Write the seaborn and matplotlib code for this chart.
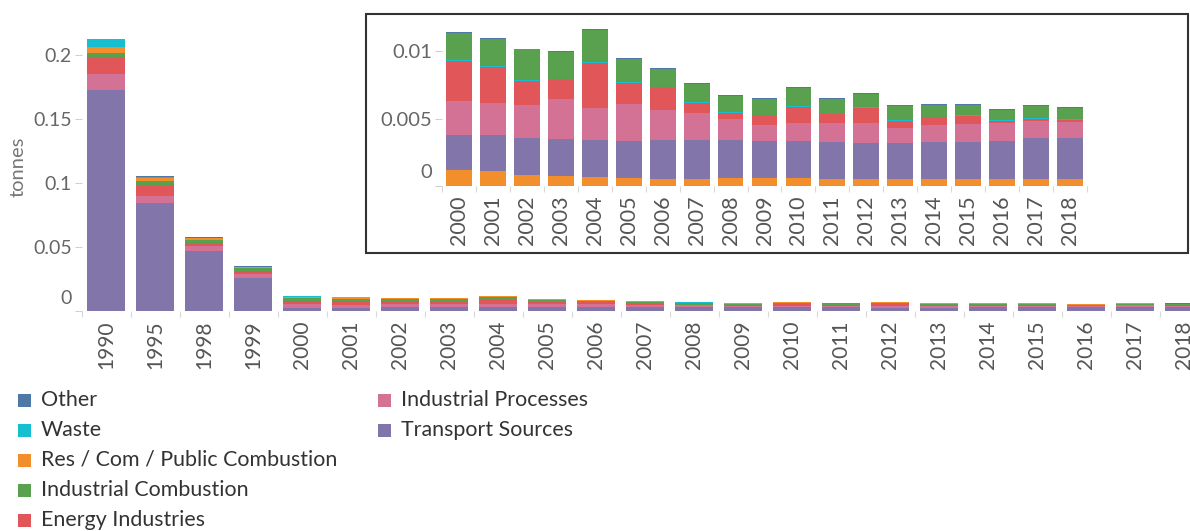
import numpy as np
import pandas as pd
import matplotlib
matplotlib.use("Agg")
import matplotlib.pyplot as plt
from matplotlib.patches import Rectangle
from matplotlib.transforms import ScaledTranslation
import seaborn as sns

years = ["1990", "1995", "1998", "1999"] + [str(y) for y in range(2000, 2019)]

transport = [0.1727, 0.0844, 0.0469, 0.0260, 0.00259, 0.00269, 0.00277, 0.00277, 0.00277,
             0.00274, 0.00289, 0.00289, 0.00281, 0.00274, 0.00274, 0.00274, 0.00267, 0.00267,
             0.00274, 0.00274, 0.00281, 0.00304, 0.00304]
ind_processes = [0.0125, 0.0054, 0.0039, 0.0027, 0.00249, 0.00237, 0.00242, 0.00296, 0.00237,
                 0.00274, 0.00220, 0.00200, 0.00153, 0.00116, 0.00133, 0.00141, 0.00148, 0.00111,
                 0.00126, 0.00133, 0.00133, 0.00126, 0.00119]
energy = [0.0130, 0.0084, 0.0021, 0.0023, 0.00299, 0.00267, 0.00180, 0.00143, 0.00333,
          0.00156, 0.00168, 0.00074, 0.00047, 0.00064, 0.00119, 0.00062, 0.00111, 0.00052,
          0.00054, 0.00059, 0.00015, 0.00015, 0.00015]
ind_combustion = [0.0036, 0.0034, 0.0026, 0.0026, 0.00202, 0.00202, 0.00227, 0.00200, 0.00240,
                  0.00170, 0.00136, 0.00136, 0.00119, 0.00123, 0.00133, 0.00109, 0.00099, 0.00106,
                  0.00089, 0.00077, 0.00077, 0.00089, 0.00084]
res_com = [0.0045, 0.0023, 0.0013, 0.0008, 0.00121, 0.00111, 0.00081, 0.00074, 0.00067,
           0.00062, 0.00054, 0.00054, 0.00062, 0.00062, 0.00062, 0.00054, 0.00054, 0.00054,
           0.00054, 0.00054, 0.00054, 0.00054, 0.00054]
waste = [0.0060, 0.0008, 0.0004, 0.0003, 0.00005, 0.00005, 0.00005, 0.00005, 0.00005,
         0.00007, 0.00003, 0.00005, 0.00007, 0.00005, 0.00007, 0.00005, 0.00005, 0.00005,
         0.00005, 0.00005, 0.00005, 0.00007, 0.00005]
other = [0.0005, 0.0008, 0.0006, 0.0005, 0.00007, 0.00007, 0.00005, 0.00007, 0.00007,
         0.00007, 0.00007, 0.00007, 0.00007, 0.00007, 0.00007, 0.00007, 0.00007, 0.00007,
         0.00007, 0.00007, 0.00007, 0.00007, 0.00007]

series = {
    "Other": other,
    "Waste": waste,
    "Res / Com / Public Combustion": res_com,
    "Industrial Combustion": ind_combustion,
    "Energy Industries": energy,
    "Industrial Processes": ind_processes,
    "Transport Sources": transport,
}
colors = {
    "Other": "#4e79a7",
    "Waste": "#17bed0",
    "Res / Com / Public Combustion": "#f28e2b",
    "Industrial Combustion": "#59a14f",
    "Energy Industries": "#e15759",
    "Industrial Processes": "#d37295",
    "Transport Sources": "#8175aa",
}
legend_col1 = ["Other", "Waste", "Res / Com / Public Combustion", "Industrial Combustion", "Energy Industries"]
legend_col2 = ["Industrial Processes", "Transport Sources"]

main_order = ["Transport Sources", "Industrial Processes", "Energy Industries",
              "Industrial Combustion", "Res / Com / Public Combustion", "Waste", "Other"]
inset_order = ["Res / Com / Public Combustion", "Transport Sources", "Industrial Processes",
               "Energy Industries", "Waste", "Industrial Combustion", "Other"]

sns.set_style("white")
plt.rcParams["font.family"] = ["Lato", "DejaVu Sans"]

W, H = 1190, 531
fig = plt.figure(figsize=(W / 100, H / 100), dpi=100)


def px_axes(left, top, right, bottom):
    return [left / W, 1 - bottom / H, (right - left) / W, (bottom - top) / H]


def stacked(ax, cats, order, sl):
    cum = np.zeros(len(cats))
    layers = []
    for name in order:
        cum = cum + np.array(series[name])[sl]
        layers.append((name, cum.copy()))
    for name, top in reversed(layers):
        df = pd.DataFrame({"year": cats, "val": top})
        sns.barplot(data=df, x="year", y="val", color=colors[name], saturation=1,
                    width=0.76, errorbar=None, linewidth=0, ax=ax)


def style(ax, n, yticks, ylabels, ylim, zero_shift, ysize, xsize):
    ax.set_xlim(-0.5, n - 0.5)
    ax.set_ylim(*ylim)
    for s in ax.spines.values():
        s.set_visible(False)
    ax.set_xlabel("")
    ax.set_ylabel("")
    ax.set_yticks(yticks)
    ax.set_yticklabels(ylabels)
    ax.tick_params(axis="y", length=5, width=0.8, color="#d0d0d0", labelsize=ysize,
                   labelcolor="#666666", pad=2, left=True)
    ax.tick_params(axis="x", which="major", length=0, labelsize=xsize, labelcolor="#555555",
                   pad=7, labelrotation=90)
    ax.set_xticks(np.arange(-0.5, n, 1.0), minor=True)
    ax.tick_params(axis="x", which="minor", length=4, width=0.8, color="#d8d8d8", bottom=True)
    lbl = ax.get_yticklabels()[0]
    lbl.set_transform(lbl.get_transform() + ScaledTranslation(0, zero_shift / 100, fig.dpi_scale_trans))


# main chart
ax = fig.add_axes(px_axes(81.5, 20, 1208.5, 311))
ax.set_zorder(0)
stacked(ax, years, main_order, slice(None))
style(ax, len(years), [0, 0.05, 0.1, 0.15, 0.2], ["0", "0.05", "0.1", "0.15", "0.2"],
      (0, 291 / 1280), 14, 14, 15)
fig.text(18 / W, 1 - 167 / H, "tonnes", rotation=90, ha="center", va="center",
         fontsize=14.5, color="#777777")

# inset frame
frame = Rectangle((366 / W, 1 - 253 / H), (1188 - 366) / W, (253 - 14) / H,
                  transform=fig.transFigure, facecolor="white", edgecolor="#333333",
                  linewidth=1.5, zorder=1)
fig.add_artist(frame)

# inset chart
ax2 = fig.add_axes(px_axes(442, 24, 1087, 186))
ax2.set_zorder(2)
inset_years = years[4:]
stacked(ax2, inset_years, inset_order, slice(4, None))
style(ax2, len(inset_years), [0, 0.005, 0.01], ["0", "0.005", "0.01"], (0, 0.012), 15, 14.5, 15.5)
ax2.patch.set_alpha(0)

# legend
def legend_col(x, names):
    for i, name in enumerate(names):
        yc = 400 + 30 * i
        fig.add_artist(Rectangle((x / W, 1 - (yc + 6.5) / H), 13 / W, 13 / H,
                                 transform=fig.transFigure, facecolor=colors[name],
                                 edgecolor="none"))
        fig.text((x + 23) / W, 1 - yc / H, name, ha="left", va="center",
                 fontsize=15.4, color="#333333")

legend_col(18, legend_col1)
legend_col(378, legend_col2)

fig.savefig("out.png", dpi=100)
